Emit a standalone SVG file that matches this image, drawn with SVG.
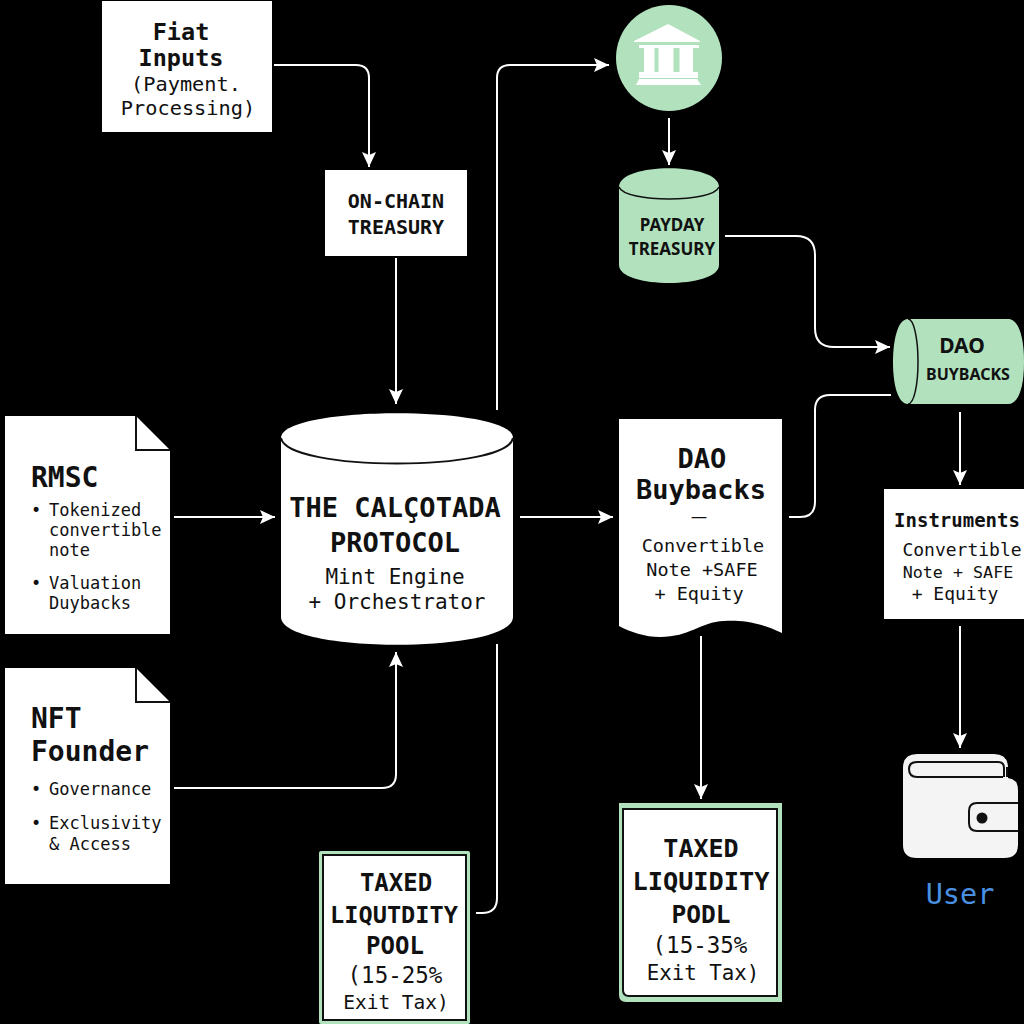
<svg xmlns="http://www.w3.org/2000/svg" width="1024" height="1024" viewBox="0 0 1024 1024">
<defs>
<marker id="a" markerUnits="userSpaceOnUse" markerWidth="16" markerHeight="14" refX="15" refY="7" orient="auto"><path d="M0 0L15 7L0 14L3 7Z" fill="#fff"/></marker>
</defs>
<style>
text{font-family:"DejaVu Sans Mono","Liberation Mono",monospace;fill:#111;text-anchor:middle}
.b{font-weight:700}
.s{font-family:"Noto Sans","DejaVu Sans",sans-serif;font-weight:700}
.l{text-anchor:start;font-size:17px}
.w{fill:#fff}
.g{fill:#b2e2bd}
.c{fill:none;stroke:#fff;stroke-width:2}
.k{fill:none;stroke:#111;stroke-width:2}
</style>
<rect width="1024" height="1024" fill="#000"/>
<g id="connectors">
<path class="c" marker-end="url(#a)" d="M274 65H356Q369 65 369 78V167"/>
<path class="c" marker-end="url(#a)" d="M396 258V404"/>
<path class="c" marker-end="url(#a)" d="M497 410V78Q497 65 510 65H609"/>
<path class="c" marker-end="url(#a)" d="M669 118V165"/>
<path class="c" marker-end="url(#a)" d="M725 236H796Q815 236 815 255V328Q815 347 834 347H890"/>
<path class="c" d="M789 517H800Q815 517 815 502V410Q815 395 830 395H891"/>
<path class="c" marker-end="url(#a)" d="M960 412V485"/>
<path class="c" marker-end="url(#a)" d="M960 626V748"/>
<path class="c" marker-end="url(#a)" d="M174 517H275"/>
<path class="c" marker-end="url(#a)" d="M520 517H613"/>
<path class="c" marker-end="url(#a)" d="M174 788H382Q396 788 396 774V652"/>
<path class="c" d="M476 913H482Q497 913 497 898V644"/>
<path class="c" marker-end="url(#a)" d="M701 636V799"/>
</g>
<g id="fiat-inputs">
<rect class="w" x="102" y="1" width="170" height="131"/>
<text class="b" x="181" y="40" font-size="23.5">Fiat</text>
<text class="b" x="181" y="66" font-size="23.5">Inputs</text>
<text x="186" y="91" font-size="20.3">(Payment.</text>
<text x="188" y="115" font-size="20.3">Processing)</text>
</g>
<g id="on-chain-treasury">
<rect class="w" x="325" y="170" width="142" height="86"/>
<text class="b" x="396" y="208" font-size="20">ON-CHAIN</text>
<text class="b" x="396" y="234" font-size="20">TREASURY</text>
</g>
<g id="bank">
<circle class="g" cx="669" cy="58" r="53"/>
<path class="w" d="M668 24L700 41V42H634V41Z M639 45H699V48H693V72H698V78H639V72H644V48H639Z"/>
<path class="g" d="M654.500 48H658.500V72H654.500Z M673.500 48H679.500V72H673.500Z"/>
<path class="w" d="M639 79H697L701 85H636Z"/>
</g>
<g id="payday-treasury">
<path class="g" d="M619 187C619 162 719 162 719 187V265C719 289 619 289 619 265Z"/>
<path d="M619 187C625 203 713 203 719 187" fill="none" stroke="#111" stroke-width="1.5"/>
<text class="s" x="672" y="231" font-size="17">PAYDAY</text>
<text class="s" x="672" y="255" font-size="17">TREASURY</text>
</g>
<g id="dao-buybacks-cylinder">
<path class="g" d="M908 319H1008C1018 319 1024 335 1024 362C1024 389 1018 404 1008 404H908C898 404 893 385 893 362C893 339 898 319 908 319Z"/>
<path d="M908 319C914 319 918 339 918 362C918 385 914 404 908 404" fill="none" stroke="#111" stroke-width="1.5"/>
<text class="s" x="962" y="353" font-size="21">DAO</text>
<text class="s" x="968" y="380" font-size="16">BUYBACKS</text>
</g>
<g id="rmsc">
<path class="w" d="M5 416H136L170 450V634H5Z"/>
<path class="k" d="M136 416V450H170"/>
<text class="b" x="31" y="487" font-size="28" style="text-anchor:start">RMSC</text>
<text class="l" x="31" y="516">•</text>
<text class="l" x="49" y="516">Tokenized</text>
<text class="l" x="49" y="536">convertible</text>
<text class="l" x="49" y="556">note</text>
<text class="l" x="31" y="589">•</text>
<text class="l" x="49" y="589">Valuation</text>
<text class="l" x="49" y="609">Duybacks</text>
</g>
<g id="nft-founder">
<path class="w" d="M5 668H136L170 702V884H5Z"/>
<path class="k" d="M136 668V702H170"/>
<text class="b" x="31" y="728" font-size="28" style="text-anchor:start">NFT</text>
<text class="b" x="31" y="761" font-size="28" style="text-anchor:start">Founder</text>
<text class="l" x="31" y="795">•</text>
<text class="l" x="49" y="795">Governance</text>
<text class="l" x="31" y="829">•</text>
<text class="l" x="49" y="829">Exclusivity</text>
<text class="l" x="49" y="850">&amp; Access</text>
</g>
<g id="protocol">
<path class="w" d="M281 438C281 405 513 405 513 438V617C513 654 281 654 281 617Z"/>
<path class="k" d="M281 438C287 472 507 472 513 438"/>
<text class="b" x="395" y="517" font-size="27">THE CALÇOTADA</text>
<text class="b" x="395" y="552" font-size="27">PROTOCOL</text>
<text x="395" y="584" font-size="21">Mint Engine</text>
<text x="397" y="609" font-size="21">+ Orchestrator</text>
</g>
<g id="dao-buybacks-doc">
<path class="w" d="M619 419H782V633C760 622 740 620 724 621C700 622 690 637 660 637C645 637 630 632 619 626Z"/>
<text class="b" x="702" y="468" font-size="27">DAO</text>
<text class="b" x="701" y="499" font-size="27">Buybacks</text>
<text x="699" y="522" font-size="16" style="font-family:'Noto Sans',sans-serif">—</text>
<text x="703" y="552" font-size="18.5">Convertible</text>
<text x="702" y="576" font-size="18.5">Note +SAFE</text>
<text x="699" y="600" font-size="18.5">+ Equity</text>
</g>
<g id="instruments">
<rect class="w" x="884" y="489" width="140" height="130"/>
<text class="b" x="957" y="527" font-size="19">Instruments</text>
<text x="962" y="556" font-size="18">Convertible</text>
<text x="958" y="578" font-size="16.7">Note + SAFE</text>
<text x="955" y="600" font-size="18">+ Equity</text>
</g>
<g id="user">
<path fill="#f4f4f4" d="M903 768Q903 754 917 754H994Q1008 754 1008 768V778Q1018 779 1018 790V845Q1018 858 1004 858H917Q903 858 903 845Z"/>
<path class="k" d="M1003 777H917Q909 777 909 769Q909 762 917 762H998Q1004 762 1004 768V777"/>
<path class="k" d="M1007 767V777"/>
<path d="M1018 803H977Q969 803 969 811V823Q969 831 977 831H1018" fill="#f4f4f4" stroke="#111" stroke-width="2"/>
<circle cx="982" cy="818" r="5.5" fill="#111"/>
<text x="960" y="904" font-size="28.5" style="fill:#4a90e2">User</text>
</g>
<g id="taxed-liquidity-pool">
<rect class="g" x="319" y="851" width="151" height="173" rx="2"/>
<rect x="323" y="855" width="143" height="165" fill="#fff" stroke="#111" stroke-width="2"/>
<text class="b" x="396" y="891" font-size="24">TAXED</text>
<text class="b" x="394" y="923" font-size="23.6">LIQUTDITY</text>
<text class="b" x="395" y="954" font-size="24">POOL</text>
<text x="395" y="983" font-size="22.5">(15-25%</text>
<text x="396" y="1009" font-size="19.5">Exit Tax)</text>
</g>
<g id="taxed-liquidity-podl">
<path class="g" d="M619 803H782V1002H626Q619 1002 619 995Z"/>
<path d="M623 809H777V996H629Q623 996 623 990Z" fill="#fff" stroke="#111" stroke-width="2"/>
<text class="b" x="701" y="857" font-size="25">TAXED</text>
<text class="b" x="701" y="890" font-size="25.3">LIQUIDITY</text>
<text class="b" x="701" y="923" font-size="24.5">PODL</text>
<text x="700" y="953" font-size="22.5">(15-35%</text>
<text x="703" y="980" font-size="20.8">Exit Tax)</text>
</g>
</svg>
